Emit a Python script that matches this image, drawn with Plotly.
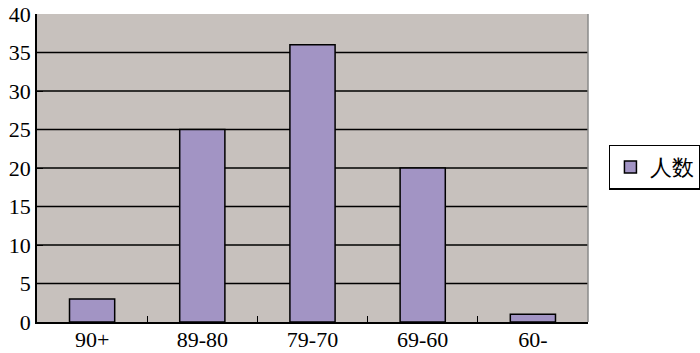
import plotly.graph_objects as go

categories = ["90+", "89-80", "79-70", "69-60", "60-"]
counts = [3, 25, 36, 20, 1]
series_name = "人数"
y_ticks = [0, 5, 10, 15, 20, 25, 30, 35, 40]

FONT = "Liberation Serif"

fig = go.Figure()
fig.add_trace(go.Bar(
    x=categories, y=counts, name=series_name,
    marker=dict(color="#A294C4", line=dict(color="black", width=1.5)),
    width=0.41, showlegend=True,
))

# horizontal gridlines (not at the top edge)
for v in y_ticks[1:-1]:
    fig.add_shape(type="line", xref="paper", yref="y", x0=0, x1=1, y0=v, y1=v,
                  line=dict(color="black", width=1.5), layer="below")

fig.update_layout(
    width=700, height=353,
    margin=dict(l=37, r=112, t=14, b=31, autoexpand=False),
    paper_bgcolor="white",
    plot_bgcolor="#C7C1BD",
    font=dict(family=FONT, size=22, color="black"),
    showlegend=True,
    legend=dict(x=1.038, y=0.503, xanchor="left", yanchor="middle",
                bordercolor="black", borderwidth=1.5, bgcolor="white",
                font=dict(family=FONT, size=22)),
    xaxis=dict(showline=True, linecolor="black", linewidth=1.5,
               ticks="inside", tickson="boundaries", ticklen=6, tickcolor="black",
               mirror=False, showgrid=False, automargin=False,
               ticklabelstandoff=-3,
               tickfont=dict(family=FONT, size=22)),
    yaxis=dict(range=[0, 40], tickvals=y_ticks, showline=True, linecolor="black",
               linewidth=1.5, ticks="inside", ticklen=6, tickcolor="black",
               showgrid=False, zeroline=False, automargin=False,
               tickfont=dict(family=FONT, size=22)),
)
fig.add_shape(type="line", xref="paper", yref="paper", x0=1, x1=1, y0=0, y1=1,
              line=dict(color="#8A8A8A", width=1.5))

fig.write_html("out.html")
